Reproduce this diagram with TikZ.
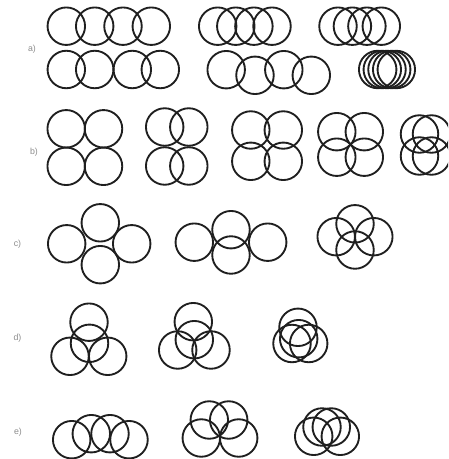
\documentclass[tikz,border=0pt]{standalone}
\usepackage{fontspec}
\setsansfont{Liberation Sans}
\tikzset{
  ring/.style={draw=black!88, line width=0.056cm},
  tag/.style={font=\sffamily\fontsize{7.5}{9}\selectfont, text=black!45, inner sep=0pt}
}
% one group of equal rings, centres given in pixel units
\newcommand{\ringgroup}[1]{%
  \foreach \cx/\cy in {#1} \draw[ring] (\cx,\cy) circle[radius=0.5625cm];}

\begin{document}
\begin{tikzpicture}[x=0.03cm, y=-0.03cm]
  \useasboundingbox (0,0) rectangle (448,459);
  \clip (0,0) rectangle (448,459);

  % a) rows of four
  \node[tag] (la) at (32,49) {a)};
  \ringgroup{66.3/26.2, 94.7/26.2, 123/26.2, 151.3/26.2}
  \ringgroup{217.7/26.2, 235.8/26.2, 253.9/26.2, 272/26.2}
  \ringgroup{338/26.2, 352.4/26.2, 366.9/26.2, 381.3/26.2}
  \ringgroup{66.3/69.5, 94.7/69.5, 132.3/69.5, 160.3/69.5}
  \ringgroup{226.2/69.7, 255/75.3, 283.8/69.7, 311.3/75.3}
  \ringgroup{377.7/69.5, 382.3/69.5, 387/69.5, 391.7/69.5, 396.3/69.5}

  % b) squares of four
  \node[tag] (lb) at (34,152) {b)};
  \ringgroup{66.2/128.8, 103.5/128.8, 66.2/166.3, 103.5/166.3}
  \ringgroup{164.7/127, 188.8/127, 164.7/166, 188.8/166}
  \ringgroup{250.8/130, 283.3/130, 250.8/161.3, 283.3/161.3}
  \ringgroup{336.8/131.7, 364.3/131.7, 336.8/157.2, 364.3/157.2}
  \ringgroup{419.5/134, 431.5/134, 419.5/156, 431.5/156}

  % c) crosses of four
  \node[tag] (lc) at (17.5,244) {c)};
  \ringgroup{66.7/243.8, 100.3/222.8, 131.7/243.8, 100.3/264.7}
  \ringgroup{194.3/242.2, 231/229.7, 231/255, 267.7/242.2}
  \ringgroup{336.2/236.7, 355/223.8, 373.8/236.7, 355/250}

  % d) three round a centre
  \node[tag] (ld) at (17.5,338) {d)};
  \ringgroup{89/322.2, 89.5/343.3, 70/356.3, 107.7/356.3}
  \ringgroup{193.3/321.7, 194.3/339.7, 177.7/350, 211/350}
  \ringgroup{298/327.3, 298.7/338.7, 292/343.5, 308.7/343.5}

  % e) two over two
  \node[tag] (le) at (18,432) {e)};
  \ringgroup{71.7/439.7, 91.3/433.7, 110/433.7, 129/439.7}
  \ringgroup{209.3/420, 228.7/420, 201.3/438, 238.7/438}
  \ringgroup{322/427, 331.3/427, 313.7/436.3, 340.3/436.3}
\end{tikzpicture}
\end{document}
